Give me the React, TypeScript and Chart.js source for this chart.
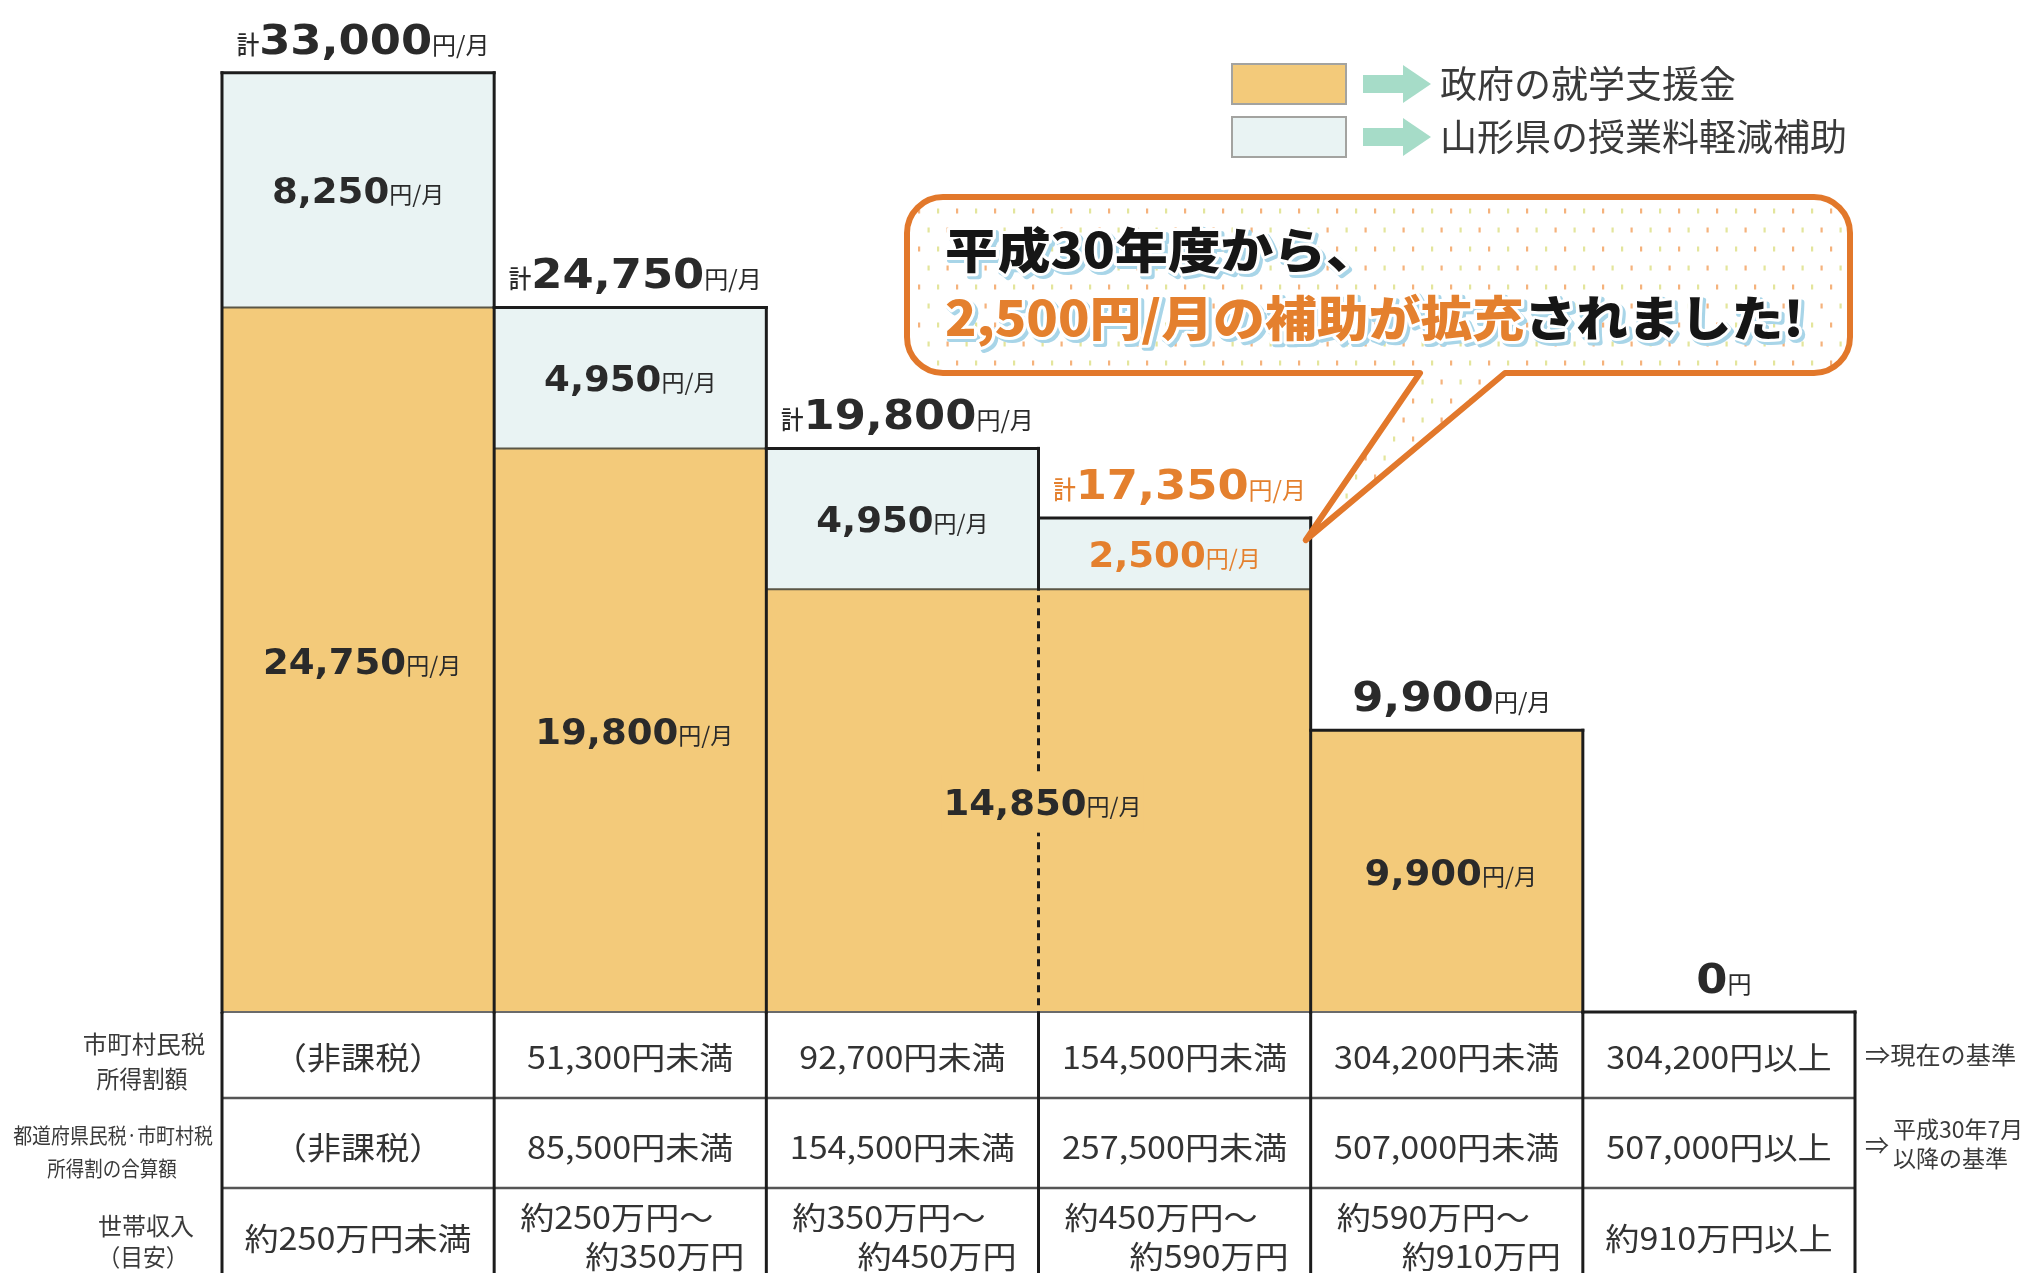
import React, { useEffect, useRef } from 'react';
import { Chart, registerables } from 'chart.js';

Chart.register(...registerables);

const W = 2040;
const H = 1273;

// ---- data ----
const categories = ['（非課税）', '51,300円未満', '92,700円未満', '154,500円未満', '304,200円未満', '304,200円以上'];
const govAid = [24750, 19800, 14850, 14850, 9900, 0];
const prefAid = [8250, 4950, 4950, 2500, 0, 0];
const seriesLabels = ['政府の就学支援金', '山形県の授業料軽減補助'];
const highlightIndex = 3;

const municipalTax = ['（非課税）', '51,300円未満', '92,700円未満', '154,500円未満', '304,200円未満', '304,200円以上'];
const combinedTax = ['（非課税）', '85,500円未満', '154,500円未満', '257,500円未満', '507,000円未満', '507,000円以上'];
const householdIncome = [
  ['約250万円未満'],
  ['約250万円～', '約350万円'],
  ['約350万円～', '約450万円'],
  ['約450万円～', '約590万円'],
  ['約590万円～', '約910万円'],
  ['約910万円以上'],
];
const rowHeaders = [
  ['市町村民税', '所得割額'],
  ['都道府県民税·市町村税', '所得割の合算額'],
  ['世帯収入', '（目安）'],
];
const rowNote1 = '⇒現在の基準';
const rowNote2 = ['平成30年7月', '以降の基準'];
const calloutLine1 = '平成30年度から、';
const calloutLine2Highlight = '2,500円/月の補助が拡充';
const calloutLine2Rest = 'されました!';

// ---- styles ----
const DARK = '#2a2a2a';
const ORANGE_TEXT = '#e4802e';
const GOV_FILL = '#f3ca7a';
const PREF_FILL = '#e9f3f3';
const CALLOUT = '#e2782b';
const JP = '"Noto Sans CJK JP"';
const NUM = '"DejaVu Sans"';

type Run = { text: string; font: string; color: string; sx?: number };
type Fx = { stroke?: string; lw?: number; color?: string; dx?: number; dy?: number };

function runsWidth(ctx: CanvasRenderingContext2D, runs: Run[]) {
  let w = 0;
  for (const r of runs) {
    ctx.font = r.font;
    w += ctx.measureText(r.text).width * (r.sx ?? 1);
  }
  return w;
}

function drawRuns(
  ctx: CanvasRenderingContext2D,
  runs: Run[],
  x: number,
  y: number,
  align: 'left' | 'center' | 'right' = 'center',
  baseline: CanvasTextBaseline = 'alphabetic',
  fx?: Fx
) {
  const w = runsWidth(ctx, runs);
  let cx = align === 'center' ? x - w / 2 : align === 'right' ? x - w : x;
  for (const r of runs) {
    ctx.font = r.font;
    const sx = r.sx ?? 1;
    const rw = ctx.measureText(r.text).width * sx;
    ctx.save();
    ctx.translate(cx + (fx?.dx ?? 0), y + (fx?.dy ?? 0));
    ctx.scale(sx, 1);
    ctx.textAlign = 'left';
    ctx.textBaseline = baseline;
    if (fx?.stroke) {
      ctx.strokeStyle = fx.stroke;
      ctx.lineWidth = fx.lw ?? 4;
      ctx.lineJoin = 'round';
      ctx.strokeText(r.text, 0, 0);
    } else {
      ctx.fillStyle = fx?.color ?? r.color;
      ctx.fillText(r.text, 0, 0);
    }
    ctx.restore();
    cx += rw;
  }
}

const fmt = (v: number) => v.toLocaleString('en-US');

function valueRuns(v: number, color: string): Run[] {
  return [
    { text: fmt(v), font: `bold 35px ${NUM}`, color, sx: 1.06 },
    { text: '円/月', font: `23px ${JP}`, color },
  ];
}

function totalRuns(i: number): Run[] {
  const total = govAid[i] + prefAid[i];
  const color = i === highlightIndex ? ORANGE_TEXT : DARK;
  const runs: Run[] = [];
  if (prefAid[i] > 0) runs.push({ text: '計', font: `500 25px ${JP}`, color, sx: 0.9 });
  runs.push({ text: fmt(total), font: `bold 40px ${NUM}`, color, sx: 1.12 });
  runs.push({ text: total > 0 ? '円/月' : '円', font: `24px ${JP}`, color });
  return runs;
}

type Col = { left: number; right: number; cx: number; top: number; mid: number };

function line(ctx: CanvasRenderingContext2D, x1: number, y1: number, x2: number, y2: number) {
  ctx.beginPath();
  ctx.moveTo(x1, y1);
  ctx.lineTo(x2, y2);
  ctx.stroke();
}

function drawTable(ctx: CanvasRenderingContext2D, cols: Col[], base: number, height: number) {
  const n = cols.length;
  const r1 = base + 86;
  const r2 = base + 176;
  const left = cols[0].left;
  const right = cols[n - 1].right;
  ctx.save();
  ctx.strokeStyle = '#6a6a6a';
  ctx.lineWidth = 2;
  line(ctx, left, base, right, base);
  ctx.strokeStyle = '#555';
  ctx.lineWidth = 2.5;
  line(ctx, left, r1, right, r1);
  line(ctx, left, r2, right, r2);
  ctx.strokeStyle = '#1c1c1c';
  ctx.lineWidth = 3;
  cols.forEach((c) => line(ctx, c.left, base, c.left, height));
  line(ctx, right, base, right, height);

  const cellFont = `31px ${JP}`;
  const cellColor = '#333';
  const sx = 1.1;
  const row1y = (base + r1) / 2;
  const row2y = (r1 + r2) / 2;
  cols.forEach((c, i) => {
    drawRuns(ctx, [{ text: municipalTax[i], font: cellFont, color: cellColor, sx }], c.cx, row1y + 2, 'center', 'middle');
    drawRuns(ctx, [{ text: combinedTax[i], font: cellFont, color: cellColor, sx }], c.cx, row2y + 4, 'center', 'middle');
    const inc = householdIncome[i];
    if (inc.length === 1) {
      drawRuns(ctx, [{ text: inc[0], font: cellFont, color: cellColor, sx }], c.cx, r2 + 50, 'center', 'middle');
    } else {
      drawRuns(ctx, [{ text: inc[0], font: cellFont, color: cellColor, sx }], c.left + 26, r2 + 29, 'left', 'middle');
      drawRuns(ctx, [{ text: inc[1], font: cellFont, color: cellColor, sx }], c.right - 22, r2 + 68, 'right', 'middle');
    }
  });

  const hc = '#3a3a3a';
  const hx = left - 78;
  drawRuns(ctx, [{ text: rowHeaders[0][0], font: `24px ${JP}`, color: hc, sx: 1.02 }], hx, row1y - 11, 'center', 'middle');
  drawRuns(ctx, [{ text: rowHeaders[0][1], font: `24px ${JP}`, color: hc, sx: 0.95 }], hx - 2, row1y + 24, 'center', 'middle');
  drawRuns(ctx, [{ text: rowHeaders[1][0], font: `21px ${JP}`, color: hc, sx: 0.9 }], hx - 31, row2y - 8, 'center', 'middle');
  drawRuns(ctx, [{ text: rowHeaders[1][1], font: `21px ${JP}`, color: hc, sx: 0.88 }], hx - 32, row2y + 25, 'center', 'middle');
  drawRuns(ctx, [{ text: rowHeaders[2][0], font: `24px ${JP}`, color: hc }], hx + 2, r2 + 38, 'center', 'middle');
  drawRuns(ctx, [{ text: rowHeaders[2][1], font: `24px ${JP}`, color: hc, sx: 0.95 }], hx - 1, r2 + 69, 'center', 'middle');

  const nx = right + 10;
  drawRuns(ctx, [{ text: rowNote1, font: `24px ${JP}`, color: hc, sx: 1.05 }], nx, row1y, 'left', 'middle');
  drawRuns(ctx, [{ text: '⇒', font: `24px ${JP}`, color: hc }], nx, row2y + 2, 'left', 'middle');
  drawRuns(ctx, [{ text: rowNote2[0], font: `23px ${JP}`, color: hc, sx: 1.0 }], nx + 28, row2y - 14, 'left', 'middle');
  drawRuns(ctx, [{ text: rowNote2[1], font: `23px ${JP}`, color: hc }], nx + 28, row2y + 15, 'left', 'middle');
  ctx.restore();
}

function drawOutlines(ctx: CanvasRenderingContext2D, cols: Col[], base: number) {
  const n = cols.length;
  ctx.save();
  ctx.strokeStyle = '#5a5646';
  ctx.lineWidth = 2;
  cols.forEach((c, i) => {
    if (prefAid[i] > 0 && govAid[i] > 0) line(ctx, c.left, c.mid, c.right, c.mid);
  });
  ctx.strokeStyle = '#1c1c1c';
  ctx.lineWidth = 3;
  ctx.lineCap = 'square';
  cols.forEach((c) => line(ctx, c.left, c.top, c.right, c.top));
  line(ctx, cols[0].left, cols[0].top, cols[0].left, base);
  line(ctx, cols[n - 1].right, cols[n - 1].top, cols[n - 1].right, base);
  for (let i = 0; i < n - 1; i++) {
    const x = cols[i].right;
    const yHigh = Math.min(cols[i].top, cols[i + 1].top);
    if (govAid[i] === govAid[i + 1] && govAid[i] > 0) {
      ctx.lineCap = 'square';
      line(ctx, x, yHigh, x, cols[i].mid);
      ctx.save();
      ctx.lineCap = 'butt';
      ctx.setLineDash([7, 6]);
      line(ctx, x, cols[i].mid + 6, x, base);
      ctx.restore();
    } else {
      line(ctx, x, yHigh, x, base);
    }
  }
  ctx.restore();
}

function drawLabels(ctx: CanvasRenderingContext2D, cols: Col[], base: number) {
  const n = cols.length;
  cols.forEach((c, i) => {
    if (prefAid[i] > 0) {
      const color = i === highlightIndex ? ORANGE_TEXT : DARK;
      drawRuns(ctx, valueRuns(prefAid[i], color), c.cx, (c.top + c.mid) / 2 + 13);
    }
  });
  let i = 0;
  while (i < n) {
    if (govAid[i] <= 0) {
      i++;
      continue;
    }
    let j = i;
    while (j + 1 < n && govAid[j + 1] === govAid[i]) j++;
    const cx = (cols[i].left + cols[j].right) / 2 + 4;
    const cy = (cols[i].mid + base) / 2 + 14;
    const runs = valueRuns(govAid[i], DARK);
    if (j > i) {
      // merged label across a dotted divider: clear the divider behind the text
      const w = runsWidth(ctx, runs);
      ctx.fillStyle = GOV_FILL;
      ctx.fillRect(cx - w / 2 - 2, cy - 40, w + 4, 58);
    }
    drawRuns(ctx, runs, cx, cy);
    i = j + 1;
  }
  cols.forEach((c, k) => drawRuns(ctx, totalRuns(k), c.cx + 5, c.top - 19));
}

function drawLegend(ctx: CanvasRenderingContext2D, chart: any) {
  const items = [
    { fill: GOV_FILL, label: chart.data.datasets[0].label, cy: 84 },
    { fill: PREF_FILL, label: chart.data.datasets[1].label, cy: 137 },
  ];
  ctx.save();
  items.forEach((it) => {
    ctx.fillStyle = it.fill;
    ctx.fillRect(1232, it.cy - 20, 114, 40);
    ctx.strokeStyle = '#a3a3a0';
    ctx.lineWidth = 2;
    ctx.strokeRect(1232, it.cy - 20, 114, 40);
    ctx.fillStyle = '#a6dcc8';
    ctx.fillRect(1363, it.cy - 9, 42, 18);
    ctx.beginPath();
    ctx.moveTo(1403, it.cy - 19);
    ctx.lineTo(1431, it.cy);
    ctx.lineTo(1403, it.cy + 19);
    ctx.closePath();
    ctx.fill();
    drawRuns(ctx, [{ text: it.label, font: `37px ${JP}`, color: '#3a3a3a' }], 1440, it.cy, 'left', 'middle');
  });
  ctx.restore();
}

function drawCallout(ctx: CanvasRenderingContext2D, cols: Col[]) {
  const X0 = 907, Y0 = 197, X1 = 1850, Y1 = 373, R = 36;
  const tailL = 1420, tailR = 1505;
  const hc = cols[highlightIndex];
  const tipX = hc.right - 5;
  const tipY = hc.top + 22;
  const path = new Path2D();
  path.moveTo(X0 + R, Y0);
  path.lineTo(X1 - R, Y0);
  path.arcTo(X1, Y0, X1, Y0 + R, R);
  path.lineTo(X1, Y1 - R);
  path.arcTo(X1, Y1, X1 - R, Y1, R);
  path.lineTo(tailR, Y1);
  path.lineTo(tipX, tipY);
  path.lineTo(tailL, Y1);
  path.lineTo(X0 + R, Y1);
  path.arcTo(X0, Y1, X0, Y1 - R, R);
  path.lineTo(X0, Y0 + R);
  path.arcTo(X0, Y0, X0 + R, Y0, R);
  path.closePath();

  ctx.save();
  ctx.fillStyle = '#ffffff';
  ctx.fill(path);
  ctx.save();
  ctx.clip(path);
  let row = 0;
  for (let y = Y0 + 14; y < tipY + 10; y += 19, row++) {
    let col = 0;
    for (let x = X0 + 12 + (row % 2) * 9.5; x < X1; x += 19, col++) {
      ctx.fillStyle = (row + col) % 2 === 0 ? '#f5b27c' : '#e3e59c';
      ctx.fillRect(x - 1, y - 2.5, 2.2, 5);
    }
  }
  ctx.restore();
  ctx.strokeStyle = CALLOUT;
  ctx.lineWidth = 6;
  ctx.lineJoin = 'round';
  ctx.stroke(path);

  const f = `900 48px ${JP}`;
  const l1: Run[] = [{ text: calloutLine1, font: f, color: '#161616', sx: 1.1 }];
  const l2: Run[] = [
    { text: calloutLine2Highlight, font: f, color: ORANGE_TEXT, sx: 1.08 },
    { text: calloutLine2Rest, font: f, color: '#161616', sx: 1.08 },
  ];
  const drawFancy = (runs: Run[], x: number, y: number) => {
    drawRuns(ctx, runs, x, y, 'left', 'alphabetic', { stroke: '#a8d5e8', lw: 6, dx: 3, dy: 3 });
    drawRuns(ctx, runs, x, y, 'left', 'alphabetic', { stroke: '#ffffff', lw: 6 });
    drawRuns(ctx, runs, x, y, 'left', 'alphabetic');
  };
  drawFancy(l1, 945, 268);
  drawFancy(l2, 945, 336);
  ctx.restore();
}

const overlayPlugin = {
  id: 'overlay',
  afterDraw(chart: any) {
    const ctx: CanvasRenderingContext2D = chart.ctx;
    const y = chart.scales.y;
    const base = y.getPixelForValue(0);
    const meta = chart.getDatasetMeta(0);
    const cols: Col[] = meta.data.map((el: any, i: number) => ({
      left: el.x - el.width / 2,
      right: el.x + el.width / 2,
      cx: el.x,
      top: y.getPixelForValue(govAid[i] + prefAid[i]),
      mid: y.getPixelForValue(govAid[i]),
    }));
    drawTable(ctx, cols, base, chart.height);
    drawOutlines(ctx, cols, base);
    drawLabels(ctx, cols, base);
    drawLegend(ctx, chart);
    drawCallout(ctx, cols);
  },
};

export default function App() {
  const ref = useRef<HTMLCanvasElement>(null);
  useEffect(() => {
    document.body.style.margin = '0';
    const canvas = ref.current;
    if (!canvas) return;
    const chart = new Chart(canvas, {
      type: 'bar',
      data: {
        labels: categories,
        datasets: [
          { label: seriesLabels[0], data: govAid, backgroundColor: GOV_FILL, borderWidth: 0, stack: 'aid', barPercentage: 1, categoryPercentage: 1 },
          { label: seriesLabels[1], data: prefAid, backgroundColor: PREF_FILL, borderWidth: 0, stack: 'aid', barPercentage: 1, categoryPercentage: 1 },
        ],
      },
      options: {
        responsive: false,
        animation: false,
        devicePixelRatio: 1,
        events: [],
        layout: { padding: { left: 222, right: 185, top: 10, bottom: 261 } },
        scales: {
          x: { display: false, stacked: true },
          y: { display: false, stacked: true, min: 0, max: 35200 },
        },
        plugins: { legend: { display: false }, tooltip: { enabled: false } },
      } as any,
      plugins: [overlayPlugin],
    });
    return () => chart.destroy();
  }, []);
  return <canvas ref={ref} width={W} height={H} style={{ display: 'block' }} />;
}
